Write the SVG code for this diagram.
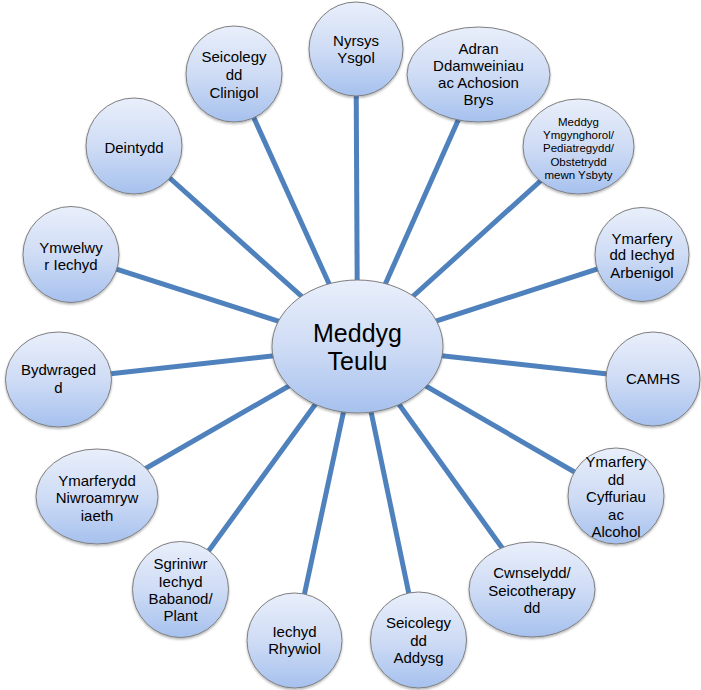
<svg xmlns="http://www.w3.org/2000/svg" width="701" height="690" viewBox="0 0 701 690">
<defs>
<linearGradient id="g" x1="0" y1="0" x2="0" y2="1">
<stop offset="0" stop-color="#e9effb"/>
<stop offset="0.5" stop-color="#cfdcf5"/>
<stop offset="1" stop-color="#a6c1ee"/>
</linearGradient>
<filter id="sh" x="-20%" y="-20%" width="140%" height="140%">
<feDropShadow dx="0" dy="1.5" stdDeviation="1.2" flood-color="#000" flood-opacity="0.3"/>
</filter>
</defs>
<style>
.n{fill:url(#g);stroke:#7f7f7f;stroke-width:1;filter:url(#sh)}
.c line{stroke:#4f81bd;stroke-width:5}
text{font-family:"Liberation Sans",Arial,sans-serif;font-size:15px;fill:#000;text-anchor:middle}
.s{font-size:11.5px}
.big{font-size:25px}
</style>
<rect width="701" height="690" fill="#fff"/>
<g id="connectors" class="c">
<line x1="357.5" y1="346.5" x2="356" y2="49"/>
<line x1="357.5" y1="346.5" x2="234" y2="74"/>
<line x1="357.5" y1="346.5" x2="478.5" y2="74.5"/>
<line x1="357.5" y1="346.5" x2="578.5" y2="146.5"/>
<line x1="357.5" y1="346.5" x2="642" y2="254.5"/>
<line x1="357.5" y1="346.5" x2="653" y2="379"/>
<line x1="357.5" y1="346.5" x2="616" y2="496"/>
<line x1="357.5" y1="346.5" x2="532" y2="589.5"/>
<line x1="357.5" y1="346.5" x2="418.5" y2="640"/>
<line x1="357.5" y1="346.5" x2="294.5" y2="640.5"/>
<line x1="357.5" y1="346.5" x2="180.5" y2="589.5"/>
<line x1="357.5" y1="346.5" x2="97" y2="496.5"/>
<line x1="357.5" y1="346.5" x2="58.5" y2="379.5"/>
<line x1="357.5" y1="346.5" x2="71" y2="254.5"/>
<line x1="357.5" y1="346.5" x2="134" y2="146"/>
</g>
<g id="meddyg-teulu">
<ellipse class="n" cx="357.5" cy="346.5" rx="85.5" ry="66.5"/>
<text class="big" x="357.5" y="342">Meddyg</text>
<text class="big" x="357.5" y="370">Teulu</text>
</g>
<g id="nyrsys-ysgol">
<ellipse class="n" cx="356" cy="49" rx="47" ry="47"/>
<text x="356" y="46">Nyrsys</text>
<text x="356" y="63">Ysgol</text>
</g>
<g id="seicolegydd-clinigol">
<ellipse class="n" cx="234" cy="74" rx="48" ry="48"/>
<text x="234" y="62">Seicolegy</text>
<text x="234" y="80">dd</text>
<text x="234" y="98">Clinigol</text>
</g>
<g id="adran-ddamweiniau">
<ellipse class="n" cx="478.5" cy="74.5" rx="71.5" ry="47.5"/>
<text x="478.5" y="53.5">Adran</text>
<text x="478.5" y="70.5">Ddamweiniau</text>
<text x="478.5" y="88">ac Achosion</text>
<text x="478.5" y="105">Brys</text>
</g>
<g id="meddyg-ymgynghorol">
<ellipse class="n" cx="578.5" cy="146.5" rx="55.5" ry="47.5"/>
<text class="s" x="578.5" y="125.7">Meddyg</text>
<text class="s" x="578.5" y="139">Ymgynghorol/</text>
<text class="s" x="578.5" y="152.3">Pediatregydd/</text>
<text class="s" x="578.5" y="165.7">Obstetrydd</text>
<text class="s" x="578.5" y="179">mewn Ysbyty</text>
</g>
<g id="ymarferydd-iechyd-arbenigol">
<ellipse class="n" cx="642" cy="254.5" rx="47" ry="47"/>
<text x="642" y="243.5">Ymarfery</text>
<text x="642" y="260">dd Iechyd</text>
<text x="642" y="278">Arbenigol</text>
</g>
<g id="camhs">
<ellipse class="n" cx="653" cy="379" rx="47" ry="47"/>
<text x="653" y="383.5">CAMHS</text>
</g>
<g id="ymarferydd-cyffuriau">
<ellipse class="n" cx="616" cy="496" rx="48" ry="48"/>
<text x="616" y="467">Ymarfery</text>
<text x="616" y="485">dd</text>
<text x="616" y="502">Cyffuriau</text>
<text x="616" y="520">ac</text>
<text x="616" y="537">Alcohol</text>
</g>
<g id="cwnselydd">
<ellipse class="n" cx="532" cy="589.5" rx="63" ry="47.5"/>
<text x="532" y="578">Cwnselydd/</text>
<text x="532" y="596">Seicotherapy</text>
<text x="532" y="612.5">dd</text>
</g>
<g id="seicolegydd-addysg">
<ellipse class="n" cx="418.5" cy="640" rx="48" ry="48"/>
<text x="418.5" y="628">Seicolegy</text>
<text x="418.5" y="646">dd</text>
<text x="418.5" y="663">Addysg</text>
</g>
<g id="iechyd-rhywiol">
<ellipse class="n" cx="294.5" cy="640.5" rx="47.5" ry="47.5"/>
<text x="294.5" y="637">Iechyd</text>
<text x="294.5" y="654">Rhywiol</text>
</g>
<g id="sgriniwr">
<ellipse class="n" cx="180.5" cy="589.5" rx="48" ry="48"/>
<text x="180.5" y="568.5">Sgriniwr</text>
<text x="180.5" y="586.5">Iechyd</text>
<text x="180.5" y="603.5">Babanod/</text>
<text x="180.5" y="621">Plant</text>
</g>
<g id="ymarferydd-niwroamrywiaeth">
<ellipse class="n" cx="97" cy="496.5" rx="61" ry="47.5"/>
<text x="97" y="486">Ymarferydd</text>
<text x="97" y="503">Niwroamryw</text>
<text x="97" y="521">iaeth</text>
</g>
<g id="bydwragedd">
<ellipse class="n" cx="58.5" cy="379.5" rx="53" ry="47.5"/>
<text x="58.5" y="375">Bydwraged</text>
<text x="58.5" y="393">d</text>
</g>
<g id="ymwelwyr-iechyd">
<ellipse class="n" cx="71" cy="254.5" rx="48" ry="48"/>
<text x="71" y="253">Ymwelwy</text>
<text x="71" y="270">r Iechyd</text>
</g>
<g id="deintydd">
<ellipse class="n" cx="134" cy="146" rx="48" ry="48"/>
<text x="134" y="153">Deintydd</text>
</g>
</svg>
